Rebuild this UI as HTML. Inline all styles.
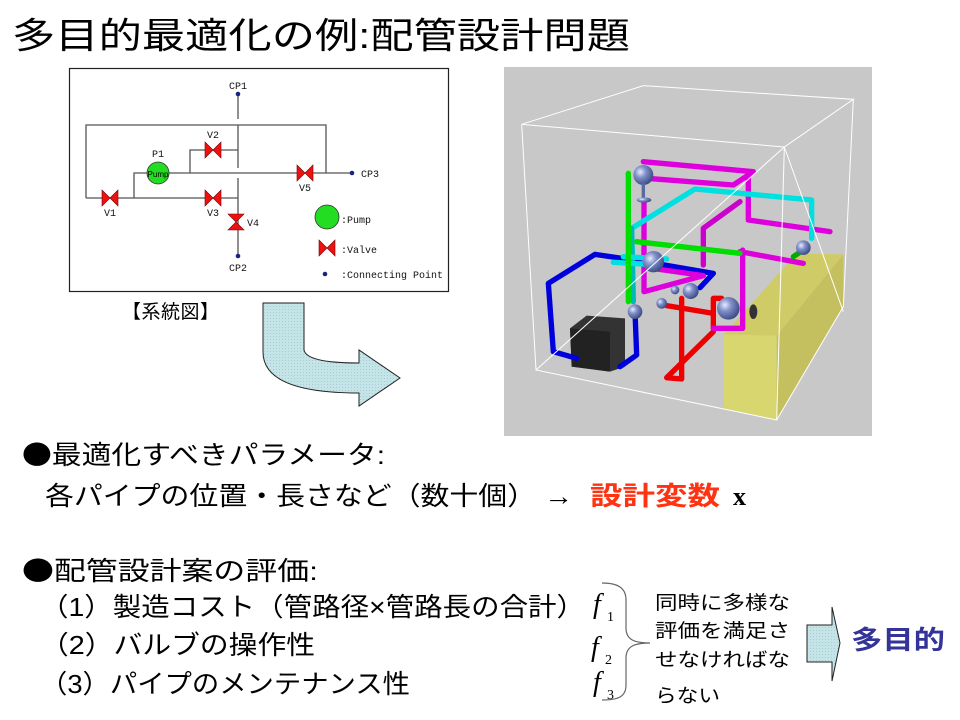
<!DOCTYPE html>
<html><head><meta charset="utf-8"><style>
html,body{margin:0;padding:0;background:#fff;}
svg{display:block;}
.j{font-family:"Liberation Sans","Noto Sans CJK JP",sans-serif;}
.m{font-family:"Liberation Mono","DejaVu Sans Mono",monospace;}
</style></head><body>
<svg width="960" height="720" viewBox="0 0 960 720" xmlns="http://www.w3.org/2000/svg">
<defs>
<radialGradient id="ball" cx="0.35" cy="0.35" r="0.7">
<stop offset="0" stop-color="#e8ecff"/><stop offset="0.4" stop-color="#8090c8"/><stop offset="1" stop-color="#3a4880"/>
</radialGradient>
<pattern id="dots" width="3" height="3" patternUnits="userSpaceOnUse">
<rect width="3" height="3" fill="#c4e4e8"/><rect width="1" height="1" fill="#a8ccd4"/>
</pattern>
</defs>

<!-- Title -->
<text class="j" x="12" y="48" font-size="36" textLength="618" lengthAdjust="spacingAndGlyphs">多目的最適化の例:配管設計問題</text>

<!-- Schematic -->
<rect x="69.5" y="68.5" width="379" height="223" fill="#fff" stroke="#222" stroke-width="1.2"/>
<g stroke="#555" stroke-width="1.3" fill="none">
<line x1="238" y1="94" x2="238" y2="119"/>
<line x1="238" y1="125" x2="238" y2="168"/>
<line x1="238" y1="178" x2="238" y2="256"/>
<polyline points="86,198 86,125 326,125 326,173"/>
<line x1="147" y1="173" x2="352" y2="173"/>
<polyline points="147,173 134,173 134,198"/>
<line x1="86" y1="198" x2="238" y2="198"/>
<polyline points="190,173 190,150 238,150"/>
</g>
<g fill="#ee1111" stroke="#7a0000" stroke-width="0.6">
<polygon points="102,190 118,206 118,190 102,206"/>
<polygon points="205,142 221,158 221,142 205,158"/>
<polygon points="205,190 221,206 221,190 205,206"/>
<polygon points="297,165 313,181 313,165 297,181"/>
<polygon points="228,214 244,230 228,230 244,214"/>
<polygon points="319,240 335,256 335,240 319,256"/>
</g>
<circle cx="158" cy="173" r="11" fill="#22dd22" stroke="#333" stroke-width="0.8"/>
<text x="158" y="177" font-size="8" text-anchor="middle" class="j">Pump</text>
<circle cx="327" cy="217" r="12" fill="#22dd22" stroke="#333" stroke-width="0.8"/>
<g fill="#1a237e"><circle cx="238" cy="94" r="2.3"/><circle cx="238" cy="256" r="2.3"/><circle cx="352" cy="173" r="2.3"/><circle cx="325" cy="274" r="2.3"/></g>
<g class="m" font-size="10" fill="#111" text-anchor="middle">
<text x="238" y="89">CP1</text><text x="238" y="271">CP2</text><text x="370" y="177" >CP3</text>
<text x="158" y="157">P1</text><text x="213" y="138">V2</text><text x="110" y="216">V1</text>
<text x="213" y="216">V3</text><text x="253" y="226">V4</text><text x="305" y="191">V5</text>
</g>
<g class="m" font-size="10" fill="#111">
<text x="341" y="223">:Pump</text><text x="341" y="253">:Valve</text><text x="341" y="278">:Connecting Point</text>
</g>
<text class="j" x="122" y="318" font-size="19" textLength="97">【系統図】</text>

<!-- curved arrow -->
<path d="M263,303 L304,303 L304,350 C306,360 330,363 359,363 L359,350 L400,378 L359,406 L359,393 C310,393 263,385 263,352 Z" fill="url(#dots)" stroke="#222" stroke-width="1"/>

<!-- 3D scene -->
<rect x="504" y="67" width="368" height="369" fill="#c8c8c8"/>
<g transform="translate(500,65) scale(0.33333)">
<polygon points="672,808 830,812 830,1065 672,1030" fill="#d8d66e"/>
<polygon points="830,812 1030,568 1030,725 830,1065" fill="#c4c060"/>
<polygon points="672,808 830,812 1030,568 890,565" fill="#cfcc68"/>
<polygon points="210,790 260,752 375,760 375,905 330,920 215,905" fill="#333"/>
<polygon points="210,790 330,800 330,920 215,905" fill="#222"/>
<g fill="none" stroke-linecap="round" stroke-linejoin="round" stroke-width="16">
<polyline stroke="#0000dd" points="230,880 160,860 145,655 285,568 465,595 640,625 600,668"/>
<polyline stroke="#0000dd" points="360,905 410,870 405,740"/>
<polyline stroke="#ee0000" points="545,700 545,942 500,938 640,800"/>
<polyline stroke="#ee0000" points="500,722 640,745 640,700 665,700"/>
<polyline stroke="#ee0000" points="640,745 640,790"/>
<polyline stroke="#dd00dd" points="430,290 760,320 700,360 440,340"/>
<polyline stroke="#dd00dd" points="745,330 745,465 990,500"/>
<polyline stroke="#cc00cc" points="720,410 610,490 610,600"/>
<polyline stroke="#dd00dd" points="720,560 910,595"/>
<polyline stroke="#dd00dd" points="728,555 728,790 640,790"/>
<polyline stroke="#dd00dd" points="432,410 432,680 610,632 470,612"/>
<polyline stroke="#00e0e0" points="395,490 585,372 935,405 935,520"/>
<polyline stroke="#00b8b8" points="395,490 400,710"/>
<polyline stroke="#00e0e0" points="340,592 482,600"/>
<polyline stroke="#00e0e0" points="370,575 500,582"/>
<polyline stroke="#00dd00" points="385,325 385,710"/>
<polyline stroke="#00dd00" points="410,530 720,565"/>
<polyline stroke="#00aa00" points="880,575 910,555"/>
</g>
<g fill="url(#ball)">
<circle cx="430" cy="330" r="30"/><rect x="425" y="355" width="10" height="45" fill="#5a6aa0"/><ellipse cx="432" cy="405" rx="22" ry="8"/>
<circle cx="460" cy="590" r="32"/><circle cx="572" cy="678" r="24"/><circle cx="405" cy="740" r="22"/>
<circle cx="685" cy="730" r="34"/><circle cx="910" cy="548" r="22"/><circle cx="485" cy="715" r="16"/><circle cx="525" cy="675" r="13"/>
<ellipse cx="760" cy="740" rx="12" ry="22" fill="#333"/>
</g>
<g stroke="#fff" stroke-width="3" fill="none">
<polyline points="65,178 430,62 1060,103 853,246 65,178"/>
<polyline points="65,178 108,915 830,1065 853,246"/>
<polyline points="1060,103 1030,725 830,1065"/>
<line x1="853" y1="246" x2="1030" y2="740"/>
<line x1="108" y1="915" x2="853" y2="246"/>
</g>
</g>

<!-- Text body -->
<g class="j" fill="#000">
<text x="22" y="464" font-size="26" textLength="363" lengthAdjust="spacingAndGlyphs"><tspan font-family="Noto Sans CJK JP">●</tspan>最適化すべきパラメータ:</text>
<text x="45" y="505" font-size="26" textLength="528" lengthAdjust="spacingAndGlyphs">各パイプの位置・長さなど（数十個） →</text>
<text x="590" y="505" font-size="26" fill="#ff3311" font-weight="bold" textLength="130" lengthAdjust="spacingAndGlyphs">設計変数</text>
<text x="22" y="580" font-size="26" textLength="296" lengthAdjust="spacingAndGlyphs"><tspan font-family="Noto Sans CJK JP">●</tspan>配管設計案の評価:</text>
<text x="40" y="616" font-size="26" textLength="545" lengthAdjust="spacingAndGlyphs">（1）製造コスト（管路径×管路長の合計）</text>
<text x="40" y="654" font-size="26" textLength="275" lengthAdjust="spacingAndGlyphs">（2）バルブの操作性</text>
<text x="40" y="693" font-size="26" textLength="370" lengthAdjust="spacingAndGlyphs">（3）パイプのメンテナンス性</text>
<text x="655" y="609" font-size="19" textLength="135" lengthAdjust="spacingAndGlyphs">同時に多様な</text>
<text x="655" y="637" font-size="19" textLength="135" lengthAdjust="spacingAndGlyphs">評価を満足さ</text>
<text x="655" y="666" font-size="19" textLength="135" lengthAdjust="spacingAndGlyphs">せなければな</text>
<text x="655" y="702" font-size="19" textLength="65" lengthAdjust="spacingAndGlyphs">らない</text>
<text x="851" y="649" font-size="26" fill="#333399" font-weight="bold" textLength="94" lengthAdjust="spacingAndGlyphs">多目的</text>
</g>
<text x="733" y="505" font-family="Liberation Serif,serif" font-weight="bold" font-size="26">x</text>
<g font-family="Liberation Serif,serif" font-style="italic" font-size="28">
<text x="593" y="613">f</text><text x="591" y="656">f</text><text x="593" y="691">f</text>
</g>
<g font-family="Liberation Serif,serif" font-size="14">
<text x="607" y="621">1</text><text x="605" y="664">2</text><text x="607" y="699">3</text>
</g>
<path d="M602,583 C618,583 626,588 626,600 L626,628 C626,640 635,643 650,643 C635,643 626,646 626,658 L626,685 C626,697 618,700 602,700" fill="none" stroke="#666" stroke-width="1.2"/>
<polygon points="807,625 832,625 832,607 840,643 832,681 832,662 807,662" fill="url(#dots)" stroke="#222" stroke-width="1"/>
</svg>
</body></html>
